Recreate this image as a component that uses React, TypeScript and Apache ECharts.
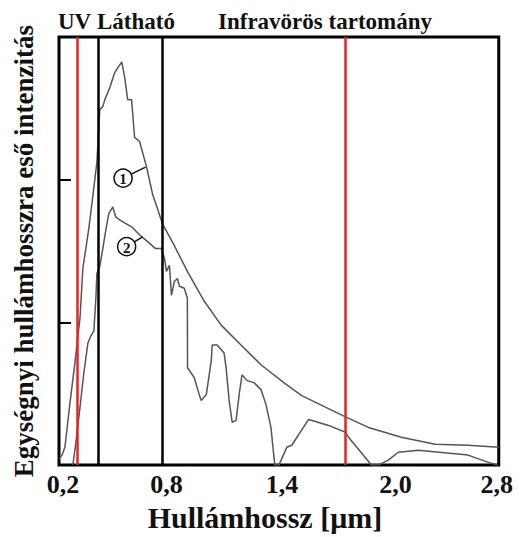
import React, { useEffect, useRef } from "react";
import * as echarts from "echarts";

// Wavelength axis (µm)
const wavelengthTicks = [0.2, 0.8, 1.4, 2.0, 2.8];

// Curve 1: spectral intensity above the atmosphere [wavelength, intensity]
const curveAboveAtmosphere: [number, number][] = [
  [0.2, 0.042], [0.218, 0.07], [0.235, 0.125], [0.265, 0.438], [0.294, 0.717],
  [0.324, 1.03], [0.341, 1.378], [0.376, 1.656], [0.4, 1.886], [0.424, 2.122],
  [0.441, 2.491], [0.459, 2.512], [0.471, 2.561], [0.5, 2.644], [0.529, 2.749],
  [0.547, 2.784], [0.571, 2.825], [0.588, 2.721], [0.606, 2.561], [0.629, 2.561],
  [0.647, 2.296], [0.676, 2.269], [0.718, 2.088], [0.753, 1.9], [0.812, 1.691],
  [0.882, 1.538], [0.959, 1.357], [1.059, 1.148], [1.159, 0.981], [1.276, 0.842],
  [1.394, 0.703], [1.529, 0.578], [1.635, 0.487], [1.9, 0.334], [2.029, 0.264],
  [2.224, 0.195], [2.424, 0.146], [2.618, 0.139], [2.8, 0.125],
];

// Curve 2: spectral intensity at sea level [wavelength, intensity]
const curveSeaLevel: [number, number][] = [
  [0.282, 0], [0.3, 0.16], [0.324, 0.404], [0.347, 0.647], [0.371, 0.856],
  [0.388, 0.905], [0.406, 0.939], [0.418, 1.169], [0.424, 1.343], [0.441, 1.392],
  [0.459, 1.517], [0.476, 1.642], [0.494, 1.761], [0.518, 1.809], [0.535, 1.74],
  [0.559, 1.719], [0.588, 1.698], [0.629, 1.67], [0.676, 1.614], [0.724, 1.566],
  [0.771, 1.517], [0.806, 1.517], [0.824, 1.447], [0.835, 1.357], [0.853, 1.399],
  [0.865, 1.19], [0.882, 1.287], [0.9, 1.308], [0.912, 1.253], [0.941, 1.239],
  [0.959, 1.169], [0.96, 0.682], [1.0, 0.612], [1.029, 0.494], [1.041, 0.452],
  [1.071, 0.494], [1.1, 0.731], [1.106, 0.842], [1.135, 0.842], [1.176, 0.786],
  [1.188, 0.682], [1.206, 0.452], [1.224, 0.299], [1.247, 0.313], [1.265, 0.494],
  [1.282, 0.633], [1.312, 0.592], [1.353, 0.578], [1.394, 0.529], [1.424, 0.424],
  [1.453, 0.264], [1.471, 0.056], [1.476, 0], [1.5, 0], [1.529, 0.077],
  [1.547, 0.125], [1.576, 0.139], [1.676, 0.32], [1.794, 0.278], [1.894, 0.23],
  [1.912, 0.195], [2.047, 0], [2.088, 0], [2.147, 0.035], [2.206, 0.09],
  [2.324, 0.104], [2.618, 0.07], [2.735, 0.021], [2.794, 0],
];

// Band boundaries (µm)
const redBoundaries = [0.312, 1.894];
const blackBoundaries = [0.429, 0.812];

// Texts
const bandLabels = ["UV", "Látható", "Infravörös tartomány"];
const xTitle = "Hullámhossz [μm]";
const yTitle = "Egységnyi hullámhosszra eső intenzitás";

// Curve markers: label, circle centre, leader end (data coords)
const markerLabels = ["1", "2"];
const markerCenters: [number, number][] = [[0.579, 2.011], [0.6, 1.531]];
const markerTargets: [number, number][] = [[0.712, 2.088], [0.694, 1.6]];

const SERIF = "'Liberation Serif', 'Times New Roman', serif";
const GRAY = "#555";
const RED = "#e3242b";

export default function App() {
  const ref = useRef<HTMLDivElement>(null);

  useEffect(() => {
    if (!ref.current) return;
    const chart = echarts.init(ref.current, null, { renderer: "svg" });

    const labelShift = [4, 6, 20, 32, -2];
    const rich: Record<string, any> = {};
    wavelengthTicks.forEach((_, i) => {
      rich["t" + i] = {
        fontFamily: SERIF,
        fontWeight: "bold",
        fontSize: 26,
        lineHeight: 26,
        color: "#111",
        padding: labelShift[i] >= 0 ? [0, 0, 0, labelShift[i] * 2] : [0, -labelShift[i] * 2, 0, 0],
      };
    });

    const option: any = {
      animation: false,
      backgroundColor: "#fff",
      grid: {
        left: 59,
        right: 19,
        top: 37,
        bottom: 69,
        show: true,
        borderColor: "#000",
        borderWidth: 3,
        backgroundColor: "transparent",
      },
      xAxis: {
        type: "value",
        min: 0.2,
        max: 2.8,
        axisLine: { show: false },
        axisTick: { show: false },
        splitLine: { show: false },
        axisLabel: {
          customValues: wavelengthTicks,
          margin: 6,
          formatter: (v: number) => {
            const i = wavelengthTicks.findIndex((t) => Math.abs(t - v) < 1e-6);
            const txt = v.toFixed(1).replace(".", ",");
            return i >= 0 ? `{t${i}|${txt}}` : txt;
          },
          rich,
        },
        name: xTitle,
        nameLocation: "middle",
        nameGap: 36,
        nameTextStyle: {
          fontFamily: SERIF,
          fontWeight: "bold",
          fontSize: 30,
          color: "#111",
          padding: [0, 28, 0, 0],
        },
      },
      yAxis: {
        type: "value",
        min: 0,
        max: 3,
        interval: 1,
        axisLine: { show: false },
        axisTick: { show: true, inside: true, length: 12, lineStyle: { color: "#000", width: 2 } },
        axisLabel: { show: false },
        splitLine: { show: false },
        name: yTitle,
        nameLocation: "middle",
        nameGap: 22,
        nameTextStyle: {
          fontFamily: SERIF,
          fontWeight: "bold",
          fontSize: 27,
          color: "#111",
        },
      },
      series: [
        {
          type: "line",
          data: curveAboveAtmosphere,
          symbol: "none",
          lineStyle: { color: GRAY, width: 1.5 },
          z: 3,
          markLine: {
            silent: true,
            symbol: "none",
            label: { show: false },
            data: [
              ...redBoundaries.map((x) => ({ xAxis: x, lineStyle: { color: RED, width: 2.5, type: "solid" } })),
              ...blackBoundaries.map((x) => ({ xAxis: x, lineStyle: { color: "#000", width: 2.5, type: "solid" } })),
            ],
          },
        },
        {
          type: "line",
          data: curveSeaLevel,
          symbol: "none",
          lineStyle: { color: GRAY, width: 1.5 },
          z: 3,
        },
      ],
    };

    chart.setOption(option);

    const graphics: any[] = [];
    const bandX = [58, 97, 218];
    bandLabels.forEach((t, i) => {
      graphics.push({
        type: "text",
        x: bandX[i],
        y: 21,
        style: {
          text: t,
          font: `bold 23px ${SERIF}`,
          fill: "#111",
          align: "left",
          verticalAlign: "middle",
        },
      });
    });

    const r = 9;
    markerLabels.forEach((lab, i) => {
      const c = chart.convertToPixel({ gridIndex: 0 }, markerCenters[i]) as number[];
      const e = chart.convertToPixel({ gridIndex: 0 }, markerTargets[i]) as number[];
      const dx = e[0] - c[0];
      const dy = e[1] - c[1];
      const len = Math.sqrt(dx * dx + dy * dy) || 1;
      graphics.push({
        type: "line",
        shape: { x1: c[0] + (dx / len) * r, y1: c[1] + (dy / len) * r, x2: e[0], y2: e[1] },
        style: { stroke: "#111", lineWidth: 1.5 },
        z: 10,
      });
      graphics.push({
        type: "circle",
        shape: { cx: c[0], cy: c[1], r },
        style: { fill: "#fff", stroke: "#111", lineWidth: 1.5 },
        z: 10,
      });
      graphics.push({
        type: "text",
        x: c[0],
        y: c[1] + 1,
        style: {
          text: lab,
          font: `bold 15px ${SERIF}`,
          fill: "#111",
          align: "center",
          verticalAlign: "middle",
        },
        z: 11,
      });
    });

    chart.setOption({ graphic: graphics });

    return () => chart.dispose();
  }, []);

  return (
    <div
      ref={ref}
      style={{ position: "fixed", left: 0, top: 0, width: 520, height: 537, background: "#fff" }}
    />
  );
}
